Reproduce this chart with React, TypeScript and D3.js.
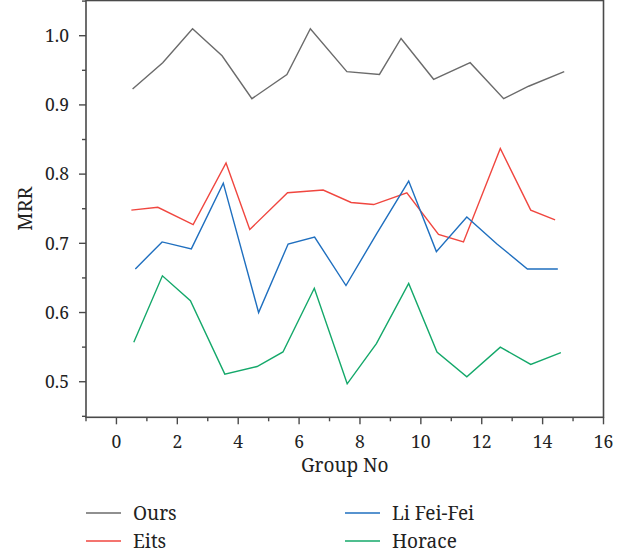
import React from 'react'
import * as d3 from 'd3'

// values (x positions differ slightly per series)
const oursX = [0.53, 1.52, 2.5, 3.47, 4.45, 5.6, 6.37, 7.57, 8.64, 9.35, 10.42, 11.62, 12.72, 13.54, 14.71]
const oursY = [0.923, 0.961, 1.01, 0.971, 0.909, 0.944, 1.01, 0.948, 0.944, 0.996, 0.937, 0.961, 0.909, 0.927, 0.948]
const eitsX = [0.49, 1.36, 2.52, 3.6, 4.38, 5.62, 6.79, 7.71, 8.45, 9.54, 10.58, 11.4, 12.61, 13.61, 14.41]
const eitsY = [0.748, 0.752, 0.727, 0.816, 0.72, 0.773, 0.777, 0.759, 0.756, 0.773, 0.713, 0.702, 0.837, 0.748, 0.734]
const liX = [0.62, 1.5, 2.46, 3.51, 4.67, 5.64, 6.51, 7.54, 8.55, 9.6, 10.51, 11.51, 12.5, 13.5, 14.5]
const liY = [0.663, 0.702, 0.692, 0.787, 0.6, 0.699, 0.709, 0.639, 0.714, 0.79, 0.688, 0.738, 0.699, 0.663, 0.663]
const horX = [0.57, 1.51, 2.43, 3.56, 4.62, 5.47, 6.5, 7.58, 8.54, 9.6, 10.53, 11.51, 12.61, 13.61, 14.6]
const horY = [0.557, 0.653, 0.617, 0.511, 0.522, 0.543, 0.635, 0.497, 0.555, 0.642, 0.543, 0.507, 0.55, 0.525, 0.542]

const seriesNames = ['Ours', 'Eits', 'Li Fei-Fei', 'Horace']
const seriesColors = ['#6b6b6b', '#f0463f', '#1f6fbf', '#14a86a']
const xTickValues = [0, 2, 4, 6, 8, 10, 12, 14, 16]
const yTickValues = [0.5, 0.6, 0.7, 0.8, 0.9, 1.0]

export default function App() {
  const W = 634, H = 557
  const left = 86, right = 603.5, top = 0.5, bottom = 417.3
  const font = 'Noto Serif'
  const axisColor = '#4a4a4a'

  const x = d3.scaleLinear().domain([-1, 16]).range([left, right])
  const y = d3.scaleLinear().domain([0.4486, 1.0516]).range([bottom, 0])

  const series = [
    { xs: oursX, ys: oursY },
    { xs: eitsX, ys: eitsY },
    { xs: liX, ys: liY },
    { xs: horX, ys: horY },
  ]
  const line = d3.line<[number, number]>().x(d => x(d[0])).y(d => y(d[1]))

  const xMinor = d3.range(-1, 17, 1).filter(v => !xTickValues.includes(v))
  const yMinor = d3.range(0.45, 1.05, 0.1)

  // legend: two columns, two rows
  const legendCols = [86, 345]
  const legendRows = [513, 541]

  return (
    <svg width={W} height={H} style={{ position: 'absolute', left: 0, top: 0, background: '#fff' }}>
      {series.map((s, i) => (
        <path key={i} d={line(s.xs.map((v, j) => [v, s.ys[j]] as [number, number])) || ''}
          fill="none" stroke={seriesColors[i]} strokeWidth={1.4} />
      ))}

      {/* frame */}
      <rect x={left} y={top} width={right - left} height={bottom - top} fill="none" stroke={axisColor} strokeWidth={1.6} />

      {/* x axis ticks */}
      {xTickValues.map(v => (
        <g key={'xt' + v}>
          <line x1={x(v)} x2={x(v)} y1={bottom} y2={bottom + 7} stroke={axisColor} strokeWidth={1.4} />
          <text x={x(v)} y={448} fontSize={17.5} textAnchor="middle" fill="#222" fontFamily={font}>{v}</text>
        </g>
      ))}
      {xMinor.map(v => (
        <line key={'xm' + v} x1={x(v)} x2={x(v)} y1={bottom} y2={bottom + 4} stroke={axisColor} strokeWidth={1.4} />
      ))}

      {/* y axis ticks */}
      {yTickValues.map(v => (
        <g key={'yt' + v}>
          <line x1={left - 7} x2={left} y1={y(v)} y2={y(v)} stroke={axisColor} strokeWidth={1.4} />
          <text x={69} y={y(v) + 6.3} fontSize={17.5} textAnchor="end" fill="#222" fontFamily={font}>{v.toFixed(1)}</text>
        </g>
      ))}
      {yMinor.map(v => (
        <line key={'ym' + v} x1={left - 4} x2={left} y1={y(v)} y2={y(v)} stroke={axisColor} strokeWidth={1.4} />
      ))}

      <text x={(left + right) / 2} y={472} fontSize={19} textAnchor="middle" fill="#222" fontFamily={font}>Group No</text>
      <text transform={`translate(32,${y(0.75)}) rotate(-90)`} fontSize={19.5} textAnchor="middle" fill="#222" fontFamily={font}>MRR</text>

      {seriesNames.map((name, i) => {
        const lx = legendCols[Math.floor(i / 2)]
        const ly = legendRows[i % 2]
        return (
          <g key={name}>
            <line x1={lx} x2={lx + 35} y1={ly} y2={ly} stroke={seriesColors[i]} strokeWidth={1.6} />
            <text x={lx + 47} y={ly + 6.5} fontSize={19} fill="#222" fontFamily={font}>{name}</text>
          </g>
        )
      })}
    </svg>
  )
}
